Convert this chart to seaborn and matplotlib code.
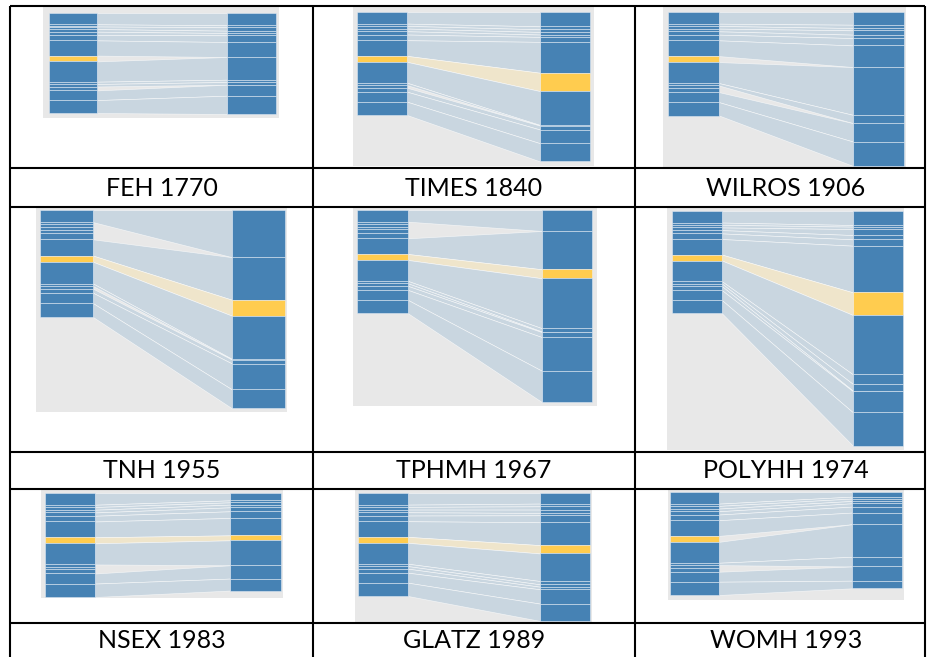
import numpy as np
import matplotlib
matplotlib.use("Agg")
import matplotlib.pyplot as plt
import seaborn as sns

# ---------------- data ----------------
segments = [f"s{i}" for i in range(1, 15)]
highlight = "s8"
left_vals = [11.3, 2.2, 2.6, 2.6, 3.2, 5.5, 15.2, 5.8, 20.3, 2.3, 2.5, 3.9, 9.7, 12.9]

titles = ["FEH 1770", "TIMES 1840", "WILROS 1906",
          "TNH 1955", "TPHMH 1967", "POLYHH 1974",
          "NSEX 1983", "GLATZ 1989", "WOMH 1993"]

feh_1770 = [12.3, 2.0, 3.4, 2.3, 2.3, 6.7, 15.0, 0, 22.7, 2.3, 2.7, 0, 11.0, 18.3]
times_1840 = [13.9, 2.9, 2.6, 2.5, 2.3, 4.8, 30.0, 17.8, 32.9, 0.6, 0, 3.8, 13.3, 17.7]
wilros_1906 = [12.3, 3.2, 2.2, 4.2, 3.3, 7.1, 20.9, 0, 46.2, 8.0, 0, 0, 17.8, 23.5]
tnh_1955 = [44.1, 0, 0, 0, 0, 0, 39.8, 14.9, 40.4, 0.6, 0, 3.7, 24.2, 17.7]
tphmh_1967 = [20.3, 0, 0, 0, 0, 0, 37.1, 8.7, 48.4, 3.2, 0.6, 4.8, 32.6, 30.3]
polyhh_1974 = [13.7, 1.6, 2.3, 5.9, 4.2, 6.2, 45.6, 22.1, 58.0, 9.4, 6.5, 0.6, 20.6, 32.6]
nsex_1983 = [7.1, 1.9, 2.2, 2.6, 3.8, 6.4, 16.7, 4.8, 24.0, 0, 0, 0, 12.8, 11.5]
glatz_1989 = [10.3, 2.6, 3.2, 3.3, 2.2, 6.8, 22.2, 8.1, 26.8, 3.2, 2.3, 2.5, 13.9, 16.8]
womh_1993 = [4.5, 1.9, 2.3, 2.3, 3.2, 5.8, 11.3, 0, 31.6, 9.4, 0, 0, 13.8, 7.4]

right_series = [feh_1770, times_1840, wilros_1906,
                tnh_1955, tphmh_1967, polyhh_1974,
                nsex_1983, glatz_1989, womh_1993]

# ---------------- layout (pixels) ----------------
FW, FH = 927, 657
# panel rect (x0, y0, x1, y1), left bar x, right bar x, bar top y, px per unit
layout = [
    ((43, 7, 279, 118), (49, 97), (227, 276), 13, 1.00),
    ((353, 7, 594, 166), (357, 407), (540, 590), 12, 1.03),
    ((663, 7, 906, 168), (668, 719), (853, 904), 12, 1.035),
    ((36, 207, 287, 412), (40, 93), (232, 285), 210, 1.07),
    ((353, 207, 597, 406), (357, 408), (542, 592), 210, 1.033),
    ((667, 207, 904, 450), (672, 722), (853, 903), 211, 1.024),
    ((41, 490, 283, 598), (45, 95), (230, 281), 493, 1.04),
    ((355, 490, 592, 623), (358, 408), (540, 590), 493, 1.03),
    ((668, 490, 904, 600), (670, 719), (852, 902), 492, 1.03),
]

BLUE = "#4682b4"
YELLOW = "#ffcc4f"
FLOW = "#c9d6e0"
FLOW_HL = "#efe5cb"
BG = "#e8e8e8"

sns.set_theme(style="white")
plt.rcParams["font.family"] = ["Lato", "DejaVu Sans"]

fig = plt.figure(figsize=(FW / 100, FH / 100), dpi=100)
fig.patch.set_facecolor("white")


def px_axes(x0, y0, x1, y1):
    return fig.add_axes([x0 / FW, 1 - y1 / FH, (x1 - x0) / FW, (y1 - y0) / FH])


seg_colors = [YELLOW if s == highlight else BLUE for s in segments]
flow_colors = [FLOW_HL if s == highlight else FLOW for s in segments]

for (rect, lbx, rbx, top, scale), right_vals in zip(layout, right_series):
    x0, y0, x1, y1 = rect
    ax = px_axes(*rect)
    ax.set_facecolor(BG)
    pw, ph = x1 - x0, y1 - y0
    toff = top - y0
    ax.set_xlim(0, pw)
    ax.set_ylim((ph - toff) / scale, -toff / scale)
    for sp in ax.spines.values():
        sp.set_visible(False)
    ax.set_xticks([])
    ax.set_yticks([])

    lv = np.array(left_vals, dtype=float)
    rv = np.array(right_vals, dtype=float)
    lc = np.concatenate([[0], np.cumsum(lv)])
    rc = np.concatenate([[0], np.cumsum(rv)])
    lxa, lxb = lbx[0] - x0, lbx[1] - x0
    rxa, rxb = rbx[0] - x0, rbx[1] - x0

    # flows
    for i in range(len(segments)):
        if rv[i] <= 0:
            continue
        ax.fill_between([lxb, rxa], [lc[i], rc[i]], [lc[i + 1], rc[i + 1]],
                        facecolor=flow_colors[i], edgecolor=(1, 1, 1, 0.7),
                        linewidth=0.45, zorder=1)

    # bars
    for xa, xb, vals, cum in ((lxa, lxb, lv, lc), (rxa, rxb, rv, rc)):
        m = vals > 0
        ax.bar(np.full(m.sum(), (xa + xb) / 2), vals[m], bottom=cum[:-1][m],
               width=xb - xa, color=np.array(seg_colors)[m],
               edgecolor=(0.93, 0.95, 0.98, 0.75), linewidth=0.45, zorder=3)

# ---------------- table overlay ----------------
ov = fig.add_axes([0, 0, 1, 1])
ov.set_xlim(0, FW)
ov.set_ylim(FH, 0)
ov.axis("off")
ov.patch.set_alpha(0)

col_x = [10, 313, 635, 925]
row_lines = [6, 168, 207, 452, 489, 623]
ov.hlines(row_lines, col_x[0], col_x[-1], colors="black", linewidth=1.5)
ov.vlines(col_x, row_lines[0], FH + 2, colors="black", linewidth=1.5)

caption_y = [188, 471, 641]
col_centers = [162, 474, 786]
for k, t in enumerate(titles):
    r, c = divmod(k, 3)
    ov.text(col_centers[c], caption_y[r], t, ha="center", va="center",
            fontsize=18, color="black")

fig.savefig("out.png", dpi=100)
